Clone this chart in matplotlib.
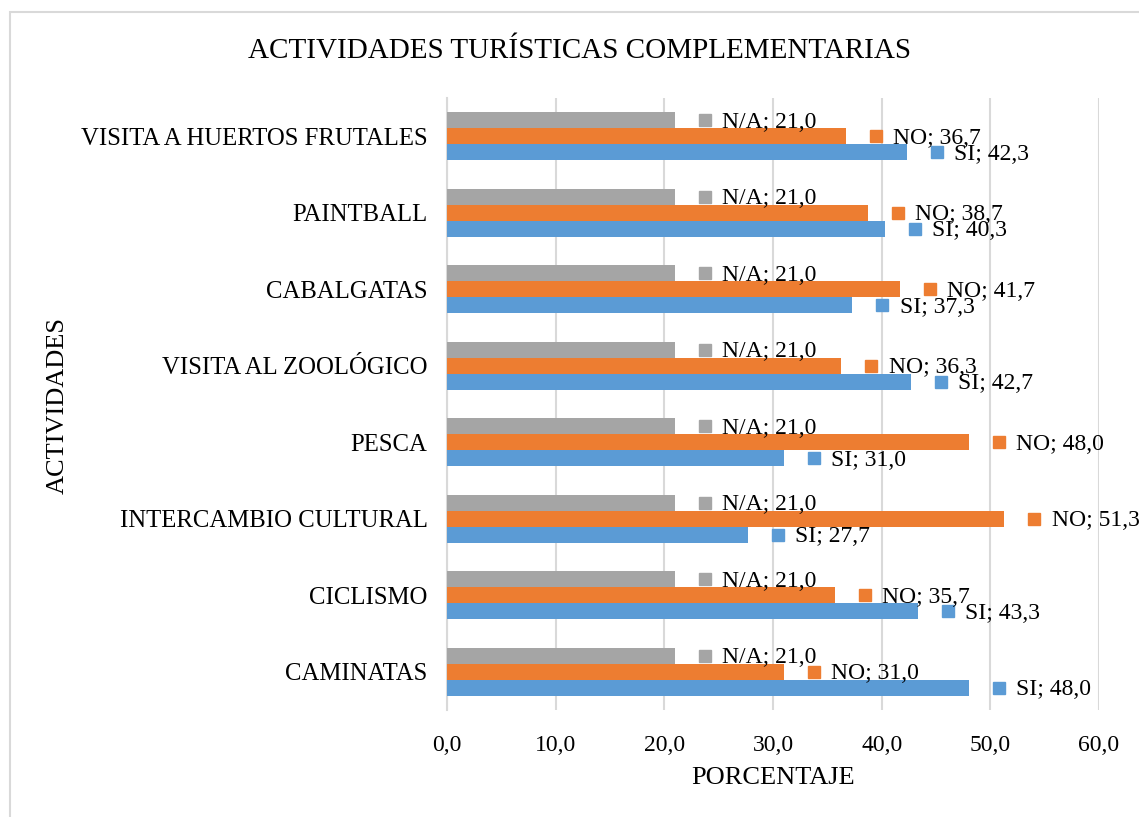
import numpy as np
import matplotlib
matplotlib.use("Agg")
import matplotlib.pyplot as plt
from matplotlib.transforms import offset_copy
from matplotlib.patches import Rectangle

plt.rcParams['font.family'] = ['Liberation Serif', 'DejaVu Serif']

# categories from bottom to top (Excel order)
actividades = ["CAMINATAS", "CICLISMO", "INTERCAMBIO CULTURAL", "PESCA",
               "VISITA AL ZOOLÓGICO", "CABALGATAS", "PAINTBALL",
               "VISITA A HUERTOS FRUTALES"]
si = [48.0, 43.3, 27.7, 31.0, 42.7, 37.3, 40.3, 42.3]
no = [31.0, 35.7, 51.3, 48.0, 36.3, 41.7, 38.7, 36.7]
na = [21.0, 21.0, 21.0, 21.0, 21.0, 21.0, 21.0, 21.0]
series_names = ["SI", "NO", "N/A"]
colores = ["#5B9BD5", "#ED7D31", "#A5A5A5"]
x_ticks = [0, 10, 20, 30, 40, 50, 60]

W, H = 1139, 817
fig = plt.figure(figsize=(W / 100, H / 100), dpi=100)
ax = fig.add_axes([447 / W, 1 - 710 / H, (1099 - 447) / W, (710 - 98) / H])

# light border around the chart area
fig.patches.append(Rectangle((10 / W, -0.1), 1.2, 1 - 12 / H + 0.1,
                             transform=fig.transFigure, fill=False,
                             edgecolor="#D9D9D9", linewidth=1.5))

y = np.arange(len(actividades))
h = 0.21
offsets = [-h, 0, h]
datos = [si, no, na]

for vals, name, col, off in zip(datos, series_names, colores, offsets):
    ax.barh(y + off, vals, height=h, color=col, zorder=3)
    # data label: legend key square + "NAME; value"
    sq_tr = offset_copy(ax.transData, fig=fig, x=30, y=0, units='dots')
    ax.plot(vals, y + off, 's', ms=8.8, color=col, transform=sq_tr,
            clip_on=False, zorder=4)
    for v, yy in zip(vals, y + off):
        txt = f"{name}; {v:.1f}".replace(".", ",")
        ax.annotate(txt, (v, yy), xytext=(34, -1.5), textcoords='offset points',
                    va='center', ha='left', fontsize=17, color='black',
                    annotation_clip=False, zorder=5)

ax.set_xlim(0, 60)
ax.set_ylim(-0.5, len(actividades) - 0.5)
ax.set_xticks(x_ticks)
ax.set_xticklabels([f"{t:.1f}".replace(".", ",") for t in x_ticks], fontsize=17)
ax.set_yticks(y)
ax.set_yticklabels(actividades, fontsize=17.8)
ax.tick_params(axis='x', length=0, pad=18)
ax.tick_params(axis='y', length=0, pad=14)
ax.grid(axis='x', color="#D9D9D9", linewidth=1.5, zorder=0)
for s in ["top", "right", "bottom"]:
    ax.spines[s].set_visible(False)
ax.spines["left"].set_color("#D9D9D9")
ax.spines["left"].set_linewidth(1.5)

ax.set_xlabel("PORCENTAJE", fontsize=19, labelpad=8)
fig.text(58 / W, 1 - 405 / H, "ACTIVIDADES", rotation=90, fontsize=19,
         ha='center', va='center')
fig.text(579 / W, 1 - 51 / H, "ACTIVIDADES TURÍSTICAS COMPLEMENTARIAS",
         fontsize=21, ha='center', va='center')

fig.savefig("out.png", dpi=100)
